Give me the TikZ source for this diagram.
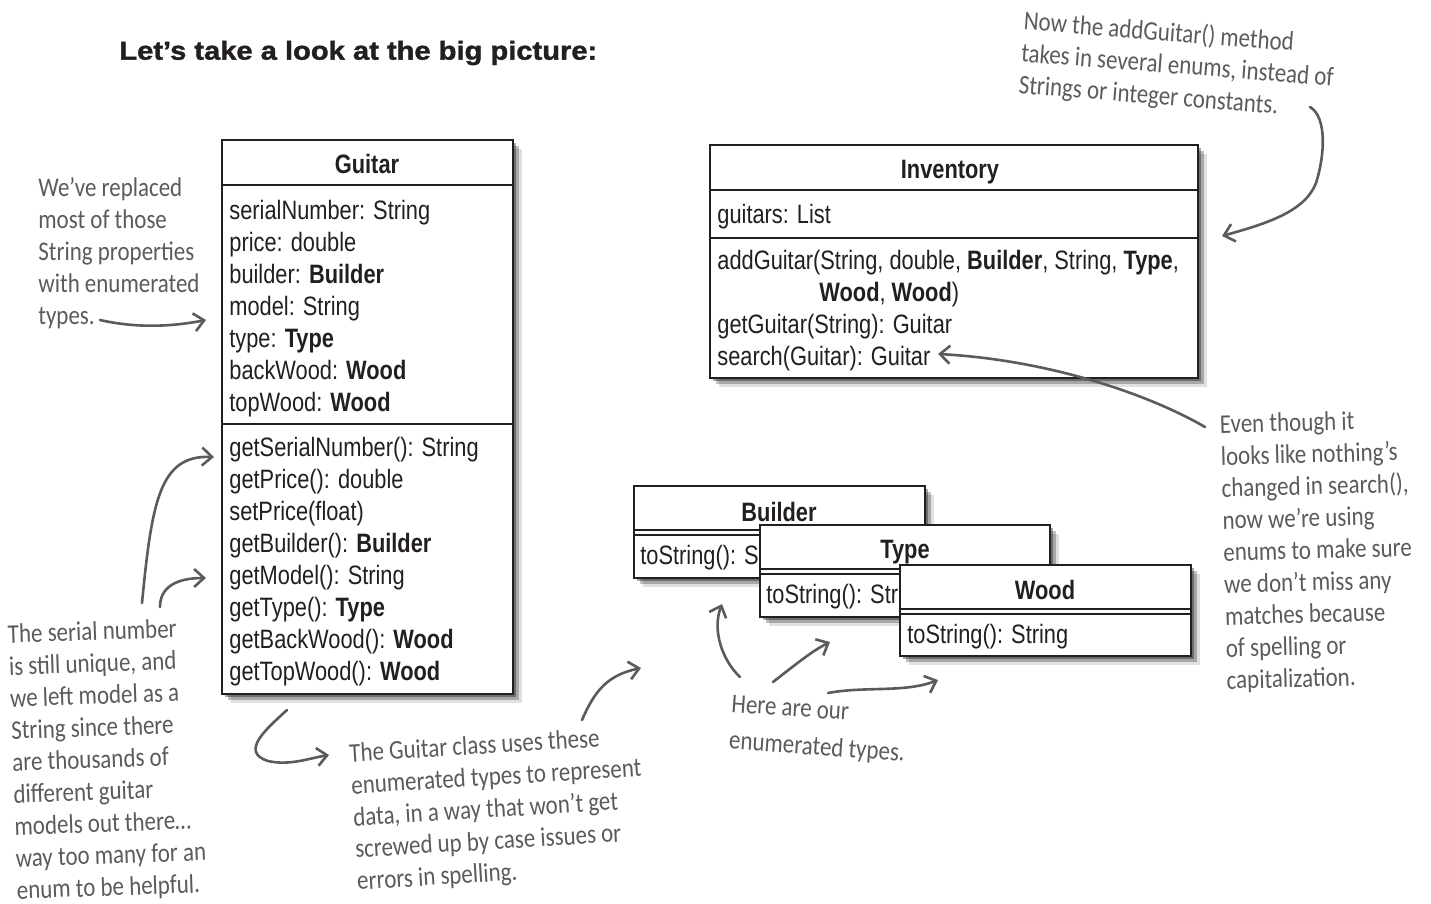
\documentclass[tikz,border=0pt]{standalone}
\usepackage{fontspec}
\setmainfont{Liberation Sans}
\newfontfamily\umlfont[FakeStretch=0.82]{Liberation Sans}
\newfontfamily\headfont[FakeStretch=1.12,BoldFeatures={FakeBold=1.5}]{Liberation Sans}
\newfontfamily\handfont[FakeStretch=0.85]{Carlito}
\usetikzlibrary{calc,fit,shadows,arrows.meta}
\definecolor{ink}{HTML}{231F20}
\definecolor{pen}{HTML}{5B5B5D}

\begin{document}
\begin{tikzpicture}[x=0.5pt, y=-0.5pt,
  softshadow/.style={drop shadow={shadow xshift=1.5pt, shadow yshift=-1.5pt, opacity=.35, fill=black},
                     drop shadow={shadow xshift=3pt, shadow yshift=-3pt, opacity=.25, fill=black},
                     drop shadow={shadow xshift=4.5pt, shadow yshift=-4.5pt, opacity=.12, fill=black}},
  umlbox/.style={draw=ink, line width=1.2pt, fill=white, inner sep=0pt, outer sep=0pt, softshadow},
  umlrule/.style={draw=ink, line width=1.2pt},
  umltext/.style={font=\umlfont\fontsize{13.3}{16}\selectfont, text=ink, align=left, inner sep=0pt, anchor=west},
  umlname/.style={font=\umlfont\bfseries\fontsize{13.3}{16}\selectfont, text=ink, inner sep=0pt},
  note/.style={font=\handfont\fontsize{13.5}{16}\selectfont, text=pen, align=left, inner sep=0pt, anchor=west},
  pencil/.style={draw=pen, line width=1.3pt, line cap=round, -{Straight Barb[length=5pt,width=9pt]}}]
  \fill[white] (0,0) rectangle (1431,904);
  \useasboundingbox (0,0) rectangle (1431,904);

  \node[anchor=west, inner sep=0pt, text=ink, font=\headfont\bfseries\fontsize{13}{16}\selectfont] (heading) at (119,53) {Let’s take a look at the big picture:};

  \node[umlbox, fit={(222,140) (513,694)}] (guitar) {};
  \draw[umlrule] ($(guitar.north west)+(0,45)$) -- ($(guitar.north east)+(0,45)$);
  \draw[umlrule] ($(guitar.north west)+(0,284)$) -- ($(guitar.north east)+(0,284)$);
  \node[umlname] (guitar-name) at (367,164) {Guitar};
  \node[umltext] (guitar-attr) at (229,309) {serialNumber: String\\price: double\\builder: \textbf{Builder}\\model: String\\type: \textbf{Type}\\backWood: \textbf{Wood}\\topWood: \textbf{Wood}};
  \node[umltext] (guitar-ops) at (229,562) {getSerialNumber(): String\\getPrice(): double\\setPrice(float)\\getBuilder(): \textbf{Builder}\\getModel(): String\\getType(): \textbf{Type}\\getBackWood(): \textbf{Wood}\\getTopWood(): \textbf{Wood}};

  \node[umlbox, fit={(710,145) (1198,378)}] (inventory) {};
  \draw[umlrule] ($(inventory.north west)+(0,45)$) -- ($(inventory.north east)+(0,45)$);
  \draw[umlrule] ($(inventory.north west)+(0,93)$) -- ($(inventory.north east)+(0,93)$);
  \node[umlname] (inventory-name) at (950,172) {Inventory};
  \node[umltext] (inventory-attr) at (717,217) {guitars: List};
  \node[umltext] (inventory-ops) at (717,311) {addGuitar(String, double, \textbf{Builder}, String, \textbf{Type},\\\hspace*{51pt}\textbf{Wood}, \textbf{Wood})\\getGuitar(String): Guitar\\search(Guitar): Guitar};

  \node[umlbox, fit={(634,486) (925,578)}] (builder) {};
  \draw[umlrule] ($(builder.north west)+(0,44)$) -- ($(builder.north east)+(0,44)$);
  \draw[umlrule] ($(builder.north west)+(0,49)$) -- ($(builder.north east)+(0,49)$);
  \node[umlname] (builder-name) at (779,512) {Builder};
  \node[umltext] (builder-ops) at (640,558) {toString(): String};

  \node[umlbox, fit={(760,525) (1050,617)}] (type) {};
  \draw[umlrule] ($(type.north west)+(0,44)$) -- ($(type.north east)+(0,44)$);
  \draw[umlrule] ($(type.north west)+(0,49)$) -- ($(type.north east)+(0,49)$);
  \node[umlname] (type-name) at (905,552) {Type};
  \node[umltext] (type-ops) at (766,597) {toString(): String};

  \node[umlbox, fit={(900,565) (1191,656)}] (wood) {};
  \draw[umlrule] ($(wood.north west)+(0,44)$) -- ($(wood.north east)+(0,44)$);
  \draw[umlrule] ($(wood.north west)+(0,49)$) -- ($(wood.north east)+(0,49)$);
  \node[umlname] (wood-name) at (1045,590) {Wood};
  \node[umltext] (wood-ops) at (907,637) {toString(): String};

  \node[note] (note-enums) at (38,253) {We’ve replaced\\most of those\\String properties\\with enumerated\\types.};
  \node[note, rotate=2] (note-serial) at (12,764) {The serial number\\is still unique, and\\we left model as a\\String since there\\are thousands of\\different guitar\\models out there…\\way too many for an\\enum to be helpful.};
  \node[note, rotate=3.5] (note-class) at (353,819) {The Guitar class uses these\\enumerated types to represent\\data, in a way that won’t get\\screwed up by case issues or\\errors in spelling.};
  \node[note, rotate=-4] (note-here) at (730,724) {Here are our\\[2.5pt]enumerated types.};
  \node[note, rotate=-4.5] (note-add) at (1021,54) {Now the addGuitar() method\\takes in several enums, instead of\\Strings or integer constants.};
  \node[note, rotate=1.5] (note-search) at (1223,554) {Even though it\\looks like nothing’s\\changed in search(),\\now we’re using\\enums to make sure\\we don’t miss any\\matches because\\of spelling or\\capitalization.};

  \coordinate (types-tail) at (100,320);
  \coordinate (types-head) at (206,320);
  \coordinate (serial-tail) at (142,603);
  \coordinate (serial-head) at (214,457);
  \coordinate (model-tail) at (160,607);
  \coordinate (model-head) at (206,578);
  \coordinate (class-tail) at (287,710);
  \coordinate (class-head) at (329,755);
  \coordinate (uses-tail) at (582,720);
  \coordinate (uses-head) at (641,668);
  \coordinate (builder-tail) at (740,677);
  \coordinate (builder-head) at (722,604);
  \coordinate (type-tail) at (773,682);
  \coordinate (type-head) at (830,642);
  \coordinate (wood-tail) at (828,693);
  \coordinate (wood-head) at (938,680);
  \coordinate (add-tail) at (1310,107);
  \coordinate (add-head) at (1222,236);
  \coordinate (search-tail) at (1205,427);
  \coordinate (search-head) at (938,354);

  \draw[pencil] (types-tail) .. controls (135,328) and (170,327) .. (types-head);
  \draw[pencil] (serial-tail) .. controls (152,500) and (160,455) .. (serial-head);
  \draw[pencil] (model-tail) .. controls (160,588) and (175,578) .. (model-head);
  \draw[pencil] (class-tail) .. controls (265,730) and (240,752) .. (268,761) .. controls (290,766) and (310,758) .. (class-head);
  \draw[pencil] (uses-tail) .. controls (595,690) and (608,675) .. (uses-head);
  \draw[pencil] (builder-tail) .. controls (722,660) and (712,630) .. (builder-head);
  \draw[pencil] (type-tail) .. controls (795,665) and (812,651) .. (type-head);
  \draw[pencil] (wood-tail) .. controls (865,686) and (905,693) .. (wood-head);
  \draw[pencil] (add-tail) .. controls (1327,117) and (1325,155) .. (1316,183) .. controls (1305,212) and (1265,224) .. (add-head);
  \draw[pencil] (search-tail) .. controls (1150,395) and (1050,360) .. (search-head);
\end{tikzpicture}
\end{document}
